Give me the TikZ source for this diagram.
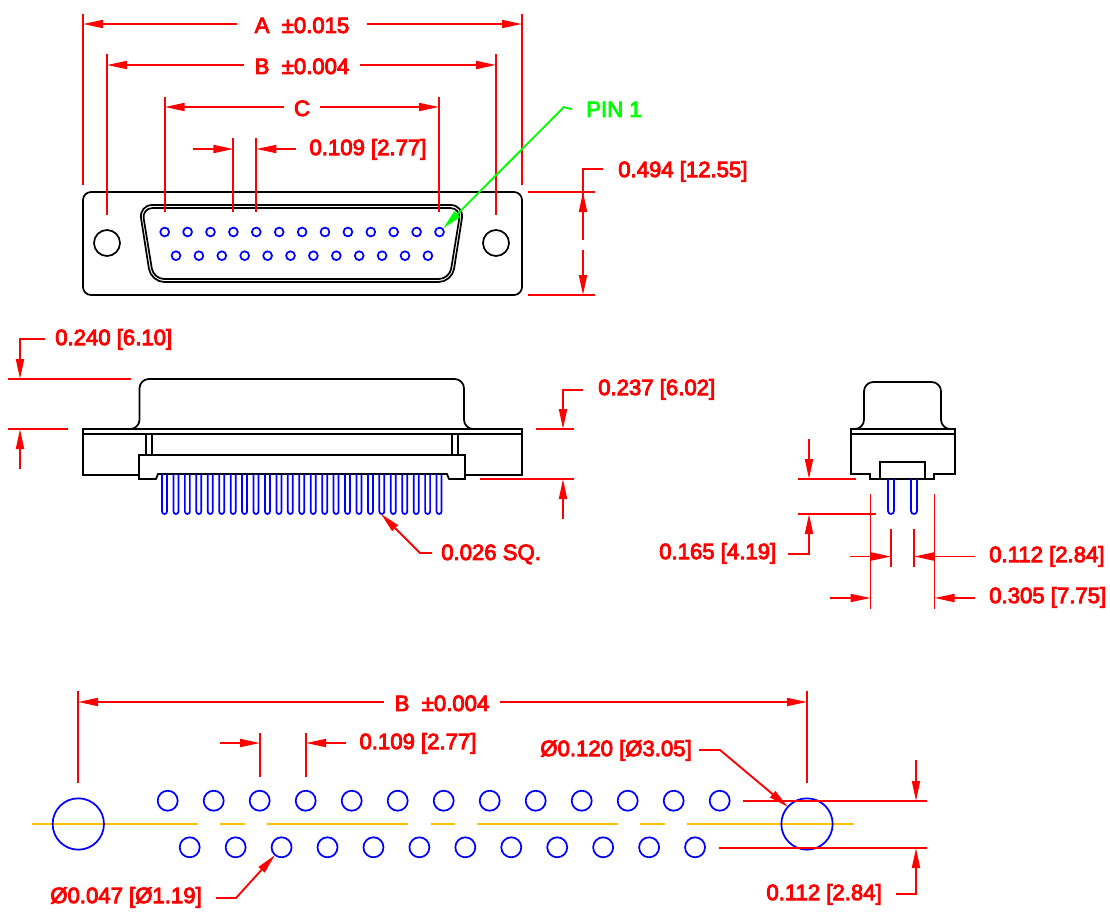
\documentclass[tikz,border=0pt]{standalone}
\usepackage{fontspec}
\setmainfont[FakeBold=4]{Liberation Sans}
\usetikzlibrary{arrows.meta}
\definecolor{pinblue}{RGB}{0,0,255}
\definecolor{centerline}{RGB}{255,192,0}
\definecolor{pingreen}{RGB}{0,255,0}
\tikzset{
  outline/.style={draw=black,line width=1.3pt},
  pinline/.style={draw=pinblue,line width=1.3pt},
  dimline/.style={draw=red,line width=1.4pt},
  dimarrow/.style={dimline,-{Triangle[length=15pt,width=6pt]}},
  dimlabel/.style={text=red,font=\fontsize{16.6}{18}\selectfont,inner xsep=7.5pt,inner ysep=2pt,yshift=-1pt},
}
\begin{document}
\begin{tikzpicture}[x=0.75pt,y=-0.75pt]
  \useasboundingbox (0,0) rectangle (1110,915);
  % front view
  \draw[outline,rounded corners=6] (83,192) rectangle (522,295);
  \node[outline,circle,minimum size=19.5pt,inner sep=0pt] (holel) at (107,243) {};
  \node[outline,circle,minimum size=19.5pt,inner sep=0pt] (holer) at (496,243) {};
  \draw[outline,rounded corners=10] (302,205) -- (464,205) -- (452,282) -- (151,282) -- (139,205) -- cycle;
  \draw[outline,rounded corners=8] (302,208) -- (461,208) -- (449.5,279) -- (153.5,279) -- (142,208) -- cycle;
  \foreach \i in {0,...,12}
    \node[pinline,circle,minimum size=6.6pt,inner sep=0pt] (top\i) at (164.7+22.9*\i,232) {};
  \foreach \i in {0,...,11}
    \node[pinline,circle,minimum size=6.6pt,inner sep=0pt] (bot\i) at (176+22.9*\i,255.7) {};
  \coordinate (aleft) at (83,24);
  \coordinate (aright) at (522,24);
  \coordinate (bleft) at (107,65);
  \coordinate (bright) at (496,65);
  \coordinate (cleft) at (164.7,107);
  \coordinate (cright) at (439,107);
  \node[dimlabel,inner xsep=13pt] (dima) at (302,24) {A\ \ ±0.015};
  \node[dimlabel] (dimb) at (302,65) {B\ \ ±0.004};
  \node[dimlabel] (dimc) at (302,107) {C};
  \draw[dimarrow] (dima.west |- aleft) -- (aleft);
  \draw[dimarrow] (dima.east |- aright) -- (aright);
  \draw[dimarrow] (dimb.west |- bleft) -- (bleft);
  \draw[dimarrow] (dimb.east |- bright) -- (bright);
  \draw[dimarrow] (dimc.west |- cleft) -- (cleft);
  \draw[dimarrow] (dimc.east |- cright) -- (cright);
  \draw[dimline] (83,14) -- (83,185);
  \draw[dimline] (522,14) -- (522,185);
  \draw[dimline] (107,54) -- (107,215);
  \draw[dimline] (496,54) -- (496,215);
  \draw[dimline] (164.7,97) -- (164.7,212);
  \draw[dimline] (439,97) -- (439,212);
  \draw[dimline] (233.4,138) -- (233.4,212);
  \draw[dimline] (256.3,138) -- (256.3,212);
  \draw[dimarrow] (193,149) -- (233.4,149);
  \draw[dimarrow] (296,149) -- (256.3,149);
  \node[dimlabel] (pitchtop) at (368,148) {0.109 [2.77]};
  \node[text=pingreen,font=\fontsize{16.6}{18}\selectfont,inner xsep=10.5pt,anchor=west,yshift=-1pt] (pinone) at (572,108) {PIN 1};
  \draw[draw=pingreen,line width=1.4pt,-{Triangle[length=15pt,width=6pt]}] (pinone.west) -- (564,107) -- (top12);
  \node[dimlabel,anchor=west,inner xsep=0pt] (dimh) at (618,170) {0.494 [12.55]};
  \coordinate (htop) at (583,192);
  \coordinate (hbot) at (583,295);
  \draw[dimline] (528,192) -- (595,192);
  \draw[dimline] (528,295) -- (595,295);
  \draw[dimline] (603,169) -- (583,169) -- (583,200);
  \draw[dimarrow] (583,240) -- (htop);
  \draw[dimarrow] (583,250) -- (hbot);
  % side view
  \draw[outline,rounded corners=7] (136,429) -- (139.5,429) -- (139.5,379) -- (464,379) -- (464,429) -- (468,429);
  \draw[outline] (83,429) rectangle (522,434);
  \draw[outline] (83,434) -- (83,475) -- (139,475);
  \draw[outline] (522,434) -- (522,475) -- (465,475);
  \draw[outline] (139,479) -- (139,455) -- (465,455) -- (465,479) -- (449,479) -- (447,474) -- (158,474) -- (156,479) -- cycle;
  \draw[outline] (146,434) -- (146,455);
  \draw[outline] (152,434) -- (152,455);
  \draw[outline] (452,434) -- (452,455);
  \draw[outline] (458,434) -- (458,455);
  \foreach \i in {0,...,24}
    \draw[pinline] (162+11.44*\i,474) -- (162+11.44*\i,511.5) arc[start angle=180,end angle=0,radius=2.5] -- (167+11.44*\i,474);
  \coordinate (shellside) at (20,379);
  \coordinate (shellbase) at (20,429);
  \node[dimlabel,anchor=west,inner xsep=0pt] (dimshell) at (55,338) {0.240 [6.10]};
  \draw[dimline] (8,379) -- (131,379);
  \draw[dimline] (8,429) -- (68,429);
  \draw[dimarrow] (45,339) -- (20,339) -- (shellside);
  \draw[dimarrow] (20,469) -- (shellbase);
  \coordinate (flangetop) at (563,429);
  \coordinate (flangebot) at (563,479);
  \node[dimlabel,anchor=west,inner xsep=0pt] (dimflange) at (598,388) {0.237 [6.02]};
  \draw[dimline] (536,429) -- (574,429);
  \draw[dimline] (480,479) -- (574,479);
  \draw[dimarrow] (583,390) -- (563,390) -- (flangetop);
  \draw[dimarrow] (563,519) -- (flangebot);
  \coordinate (pintip) at (381,514);
  \node[dimlabel,anchor=west,inner xsep=0pt] (dimsq) at (441,553) {0.026 SQ.};
  \draw[dimarrow] (432,553) -- (420,553) -- (pintip);
  % end view
  \draw[outline,rounded corners=7] (860,429) -- (864,429) -- (864,382) -- (941,382) -- (941,429) -- (945,429);
  \draw[outline] (851,429) rectangle (955,434);
  \draw[outline] (851,434) -- (851,474) -- (870,474) -- (870,479) -- (934,479) -- (934,474) -- (955,474) -- (955,434);
  \draw[outline] (880,479) -- (880,462) -- (925,462) -- (925,479);
  \draw[pinline] (888,479) -- (888,511) arc[start angle=180,end angle=0,radius=3] -- (894,479);
  \draw[pinline] (911,479) -- (911,511) arc[start angle=180,end angle=0,radius=3] -- (917,479);
  \coordinate (pinbase) at (809,479);
  \coordinate (pinend) at (809,514);
  \node[dimlabel,anchor=west,inner xsep=0pt] (dimpin) at (659,552) {0.165 [4.19]};
  \draw[dimline] (798,479) -- (856,479);
  \draw[dimline] (798,514) -- (876,514);
  \draw[dimarrow] (809,439) -- (pinbase);
  \draw[dimarrow] (788,554) -- (809,554) -- (pinend);
  \draw[dimline] (870.5,494) -- (870.5,609);
  \draw[dimline] (934.5,494) -- (934.5,609);
  \draw[dimline] (891,529) -- (891,567);
  \draw[dimline] (914,529) -- (914,567);
  \draw[dimarrow] (850,556.5) -- (891,556.5);
  \draw[dimarrow] (975,556.5) -- (914,556.5);
  \node[dimlabel,anchor=west,inner xsep=0pt] (dimrow) at (989,555) {0.112 [2.84]};
  \draw[dimarrow] (830,598) -- (870.5,598);
  \draw[dimarrow] (975,598) -- (934.5,598);
  \node[dimlabel,anchor=west,inner xsep=0pt] (dimwidth) at (989,596) {0.305 [7.75]};
  % footprint
  \foreach \a/\b in {32/198,220/245,267/408,431/455,477/618,640/665,687/854}
    \draw[draw=centerline,line width=1.3pt] (\a,824) -- (\b,824);
  \node[pinline,circle,minimum size=38.5pt,inner sep=0pt] (mountl) at (78.3,824) {};
  \node[pinline,circle,minimum size=38.5pt,inner sep=0pt] (mountr) at (807,824) {};
  \foreach \i in {0,...,12}
    \node[pinline,circle,minimum size=15pt,inner sep=0pt] (padtop\i) at (167.7+46*\i,800.7) {};
  \foreach \i in {0,...,11}
    \node[pinline,circle,minimum size=15pt,inner sep=0pt] (padbot\i) at (189.7+45.94*\i,847.3) {};
  \coordinate (fleft) at (78,702);
  \coordinate (fright) at (807,702);
  \node[dimlabel] (dimfoot) at (442,702) {B\ \ ±0.004};
  \draw[dimarrow] (dimfoot.west |- fleft) -- (fleft);
  \draw[dimarrow] (dimfoot.east |- fright) -- (fright);
  \draw[dimline] (78,691) -- (78,783);
  \draw[dimline] (807,691) -- (807,783);
  \draw[dimline] (260,733) -- (260,777);
  \draw[dimline] (306,733) -- (306,777);
  \draw[dimarrow] (220,743) -- (260,743);
  \draw[dimarrow] (346,743) -- (306,743);
  \node[dimlabel] (pitchfoot) at (418,742) {0.109 [2.77]};
  \node[dimlabel,anchor=east,inner xsep=0pt] (dimmount) at (692,749) {Ø0.120 [Ø3.05]};
  \coordinate (mounttip) at (788,807);
  \draw[dimarrow] (699,750) -- (720,750) -- (mounttip);
  \node[dimlabel,anchor=east,inner xsep=0pt] (dimpad) at (202,896) {Ø0.047 [Ø1.19]};
  \coordinate (padtip) at (275,855);
  \draw[dimarrow] (216,898) -- (236,898) -- (padtip);
  \coordinate (rowtop) at (916,801);
  \coordinate (rowbot) at (916,848);
  \draw[dimline] (743,801) -- (927,801);
  \draw[dimline] (719,848) -- (927,848);
  \draw[dimarrow] (916,760) -- (rowtop);
  \draw[dimarrow] (896,894) -- (916,894) -- (rowbot);
  \node[dimlabel,anchor=east,inner xsep=0pt] (dimrowfoot) at (882,893) {0.112 [2.84]};
\end{tikzpicture}
\end{document}
